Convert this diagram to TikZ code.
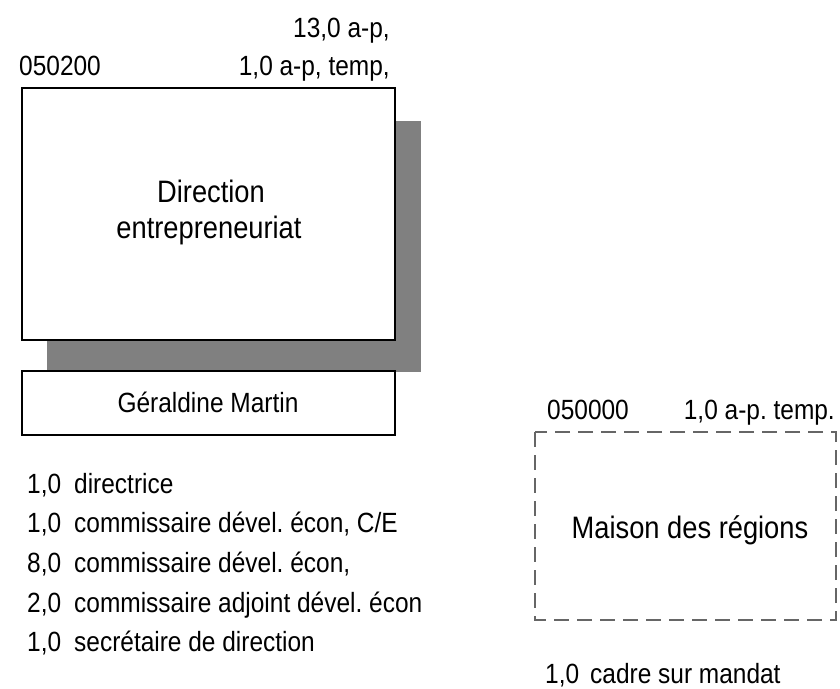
\documentclass[tikz,border=0pt]{standalone}
\usepackage{fontspec}
\setmainfont{Liberation Sans}[FakeStretch=0.88]
\frenchspacing
\definecolor{shadowgray}{HTML}{808080}
\definecolor{dashgray}{HTML}{666666}
\begin{document}
\begin{tikzpicture}[x=1pt,y=-1pt,
  small/.style={inner sep=0pt,font=\fontsize{27.8}{39.7}\selectfont},
  big/.style={inner sep=0pt,font=\fontsize{31}{36}\selectfont},
  unitbox/.style={draw=black,line width=2pt,fill=white},
  planbox/.style={draw=dashgray,line width=2.6pt,dash pattern=on 15pt off 8pt}]
\useasboundingbox (0,0) rectangle (840,688);
% shadow and main box
\fill[shadowgray] (47,121) rectangle (421,372);
\draw[unitbox] (22,88) rectangle (395,340);
\draw[unitbox] (22,371) rectangle (395,435);
% header texts
\node[small,anchor=base east] (fte1) at (390,37) {13,0 a-p,};
\node[small,anchor=base east] (fte2) at (390,75) {1,0 a-p, temp,};
\node[small,anchor=base west] (code1) at (19,75) {050200};
% titles
\node[big,anchor=base] (t1) at (211,202) {Direction};
\node[big,anchor=base] (t2) at (209,238) {entrepreneuriat};
\node[small,anchor=base] (head) at (208,412) {Géraldine Martin};
% list
\foreach \n/\t [count=\i] in {{1,0}/{directrice},
  {1,0}/{commissaire dével. écon, C/E},
  {8,0}/{commissaire dével. écon,},
  {2,0}/{commissaire adjoint dével. écon},
  {1,0}/{secrétaire de direction}}{
  \node[small,anchor=base west] (num\i) at (27,{493+39.7*(\i-1)}) {\n};
  \node[small,anchor=base west] (post\i) at (74,{493+39.7*(\i-1)}) {\t};
}
% Maison des régions
\draw[planbox] (535,432) rectangle (836,620);
\node[small,anchor=base west] (code2) at (547,419) {050000};
\node[small,anchor=base east] (fte3) at (835,419) {1,0 a-p. temp.};
\node[big,anchor=base] (t3) at (690,538) {Maison des régions};
\node[small,anchor=base west] (num6) at (545,683) {1,0};
\node[small,anchor=base west] (post6) at (590,683) {cadre sur mandat};
\end{tikzpicture}
\end{document}
